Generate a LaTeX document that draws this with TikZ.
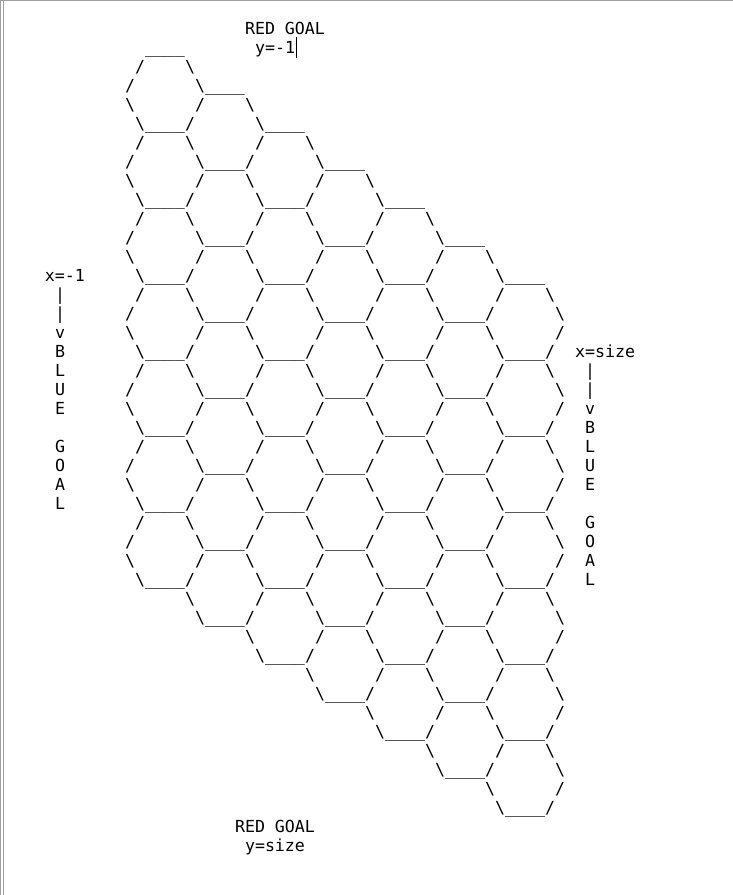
\documentclass[tikz,border=0pt]{standalone}
\usepackage{fontspec}
\newfontfamily\asciimono{DejaVu Sans Mono}
\newcommand\bksl{\textbackslash}
\tikzset{
  ch/.style={font=\fontsize{16.61}{19}\selectfont\asciimono, inner sep=0pt, outer sep=0pt, anchor=base west, text=black},
  frame/.style={draw=gray!75, line width=1.2pt},
}
% #1 name, #2 column, #3 line, #4 text
\newcommand\putch[4]{\node[ch] (#1) at ({45+10*(#2)},{860-19*(#3)}) {#4};}
\begin{document}
\begin{tikzpicture}[x=1pt,y=1pt]
\useasboundingbox (0,0) rectangle (733,895);
\fill[white] (0,0) rectangle (733,895);
% window frame
\draw[frame] (0.6,0) -- (0.6,895);
\draw[frame] (3.4,0) -- (3.4,894.4);
\draw[frame] (0,894.4) -- (733,894.4);

% hex board 7 x 7 (shared edges drawn once)
\foreach \k in {0,...,6}{
  \foreach \r in {0,...,6}{
    \pgfmathtruncatemacro\b{8+6*\k}
    \pgfmathtruncatemacro\t{1+4*\r+2*\k}
    % top edge
    \putch{h\k\r a}{\b+2}{\t}{\_\_\_\_}
    % left edges
    \putch{h\k\r b}{\b+1}{\t+1}{/}
    \putch{h\k\r d}{\b}{\t+2}{/}
    \putch{h\k\r f}{\b}{\t+3}{\bksl}
    \putch{h\k\r h}{\b+1}{\t+4}{\bksl}
    % upper right edge (shared with the hex up-right)
    \ifnum\k=6
      \putch{h\k\r c}{\b+6}{\t+1}{\bksl}
      \putch{h\k\r e}{\b+7}{\t+2}{\bksl}
    \else\ifnum\r=0
      \putch{h\k\r c}{\b+6}{\t+1}{\bksl}
      \putch{h\k\r e}{\b+7}{\t+2}{\bksl}
    \fi\fi
    % lower right edge (shared with the hex to the right)
    \ifnum\k=6
      \putch{h\k\r g}{\b+7}{\t+3}{/}
      \putch{h\k\r j}{\b+6}{\t+4}{/}
    \fi
    % bottom edge (shared with the hex below)
    \ifnum\r=6
      \putch{h\k\r i}{\b+2}{\t+4}{\_\_\_\_}
    \fi
  }
}

% top label
\putch{redtop}{20}{0}{RED GOAL}
\putch{ytop}{21}{1}{y=-1}
\draw[black, line width=1pt] (296.5,858) -- (296.5,837);

% bottom label
\putch{redbot}{19}{42}{RED GOAL}
\putch{ybot}{20}{43}{y=size}

% left label
\putch{xl}{0}{13}{x=-1}
\putch{l1}{1}{14}{|}
\putch{l2}{1}{15}{|}
\putch{l3}{1}{16}{v}
\putch{l4}{1}{17}{B}
\putch{l5}{1}{18}{L}
\putch{l6}{1}{19}{U}
\putch{l7}{1}{20}{E}
\putch{l8}{1}{22}{G}
\putch{l9}{1}{23}{O}
\putch{l10}{1}{24}{A}
\putch{l11}{1}{25}{L}

% right label
\putch{xr}{53}{17}{x=size}
\putch{r1}{54}{18}{|}
\putch{r2}{54}{19}{|}
\putch{r3}{54}{20}{v}
\putch{r4}{54}{21}{B}
\putch{r5}{54}{22}{L}
\putch{r6}{54}{23}{U}
\putch{r7}{54}{24}{E}
\putch{r8}{54}{26}{G}
\putch{r9}{54}{27}{O}
\putch{r10}{54}{28}{A}
\putch{r11}{54}{29}{L}
\end{tikzpicture}
\end{document}
